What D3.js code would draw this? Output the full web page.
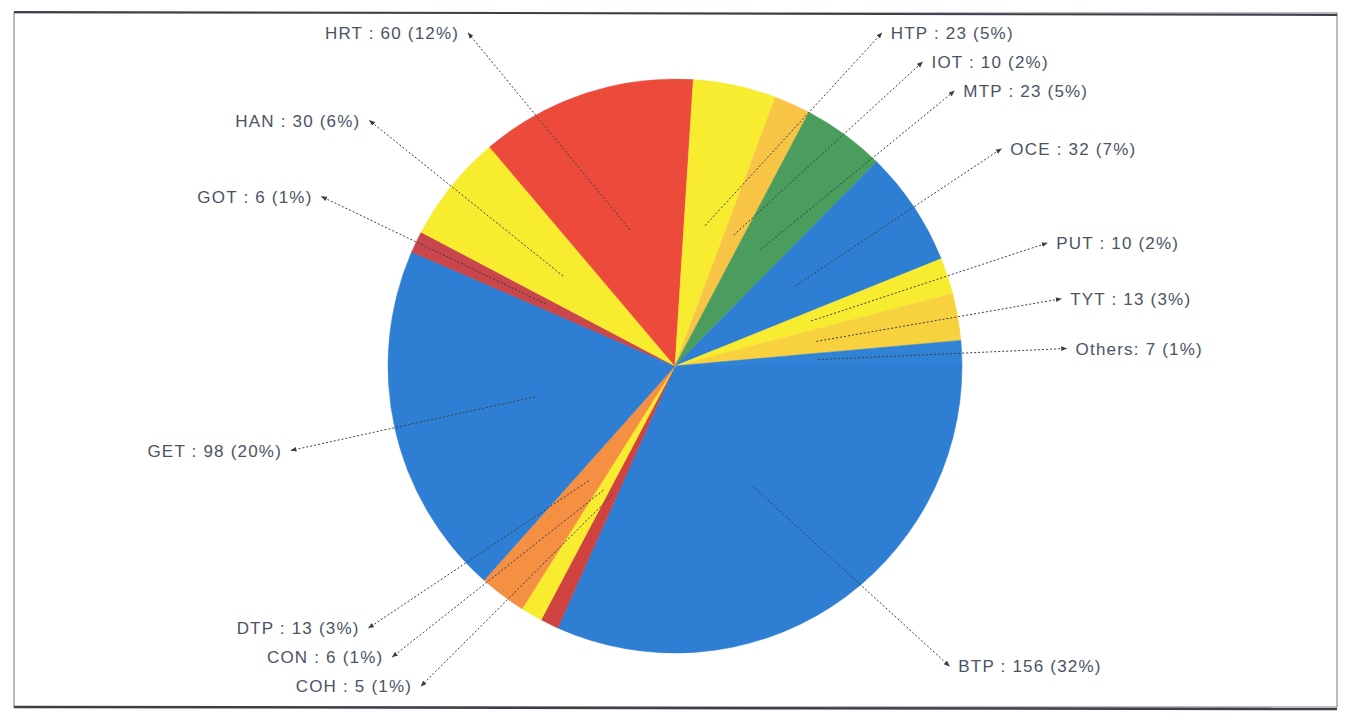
<!DOCTYPE html>
<html>
<head>
<meta charset="utf-8">
<script src="https://cdn.jsdelivr.net/npm/d3@7/dist/d3.min.js"></script>
<style>
  html, body { margin: 0; padding: 0; background: #ffffff; }
  svg { display: block; }
</style>
</head>
<body>
<svg id="chart" width="1346" height="727"></svg>
<script>
// ---- data ----
const categories = ["BTP", "COH", "CON", "DTP", "GET", "GOT", "HAN", "HRT", "HTP", "IOT", "MTP", "OCE", "PUT", "TYT", "Others"];
const values     = [156,   5,     6,     13,    98,    6,     30,    60,    23,    10,    23,    32,    10,    13,    7];
const sliceColors = ["#2e7fd4", "#d0423f", "#f8ec2e", "#f58f42", "#2e7fd4", "#c9464a", "#f8ec2e", "#ec4a3b",
                     "#f8ec30", "#f7c446", "#4a9d5c", "#2e7fd4", "#f8ec30", "#f8d23e", "#3083d6"];

// ---- layout ----
const cx = 675, cy = 366, R = 287;
const labelRx = 392, labelRyTop = 392, labelRyBottom = 420;
const labelGap = 29, yMin = 33, yMaxLeft = 686, yMaxRight = 666;

const svg = d3.select("#chart");

// frame
svg.append("rect").attr("x", 14).attr("y", 13).attr("width", 1323).attr("height", 694)
  .attr("fill", "#ffffff").attr("stroke", "#8a8f96").attr("stroke-width", 1.2);
svg.append("line").attr("x1", 14).attr("y1", 12).attr("x2", 1337).attr("y2", 15)
  .attr("stroke", "#3d4147").attr("stroke-width", 2);
svg.append("line").attr("x1", 14).attr("y1", 707).attr("x2", 1337).attr("y2", 709)
  .attr("stroke", "#3d4147").attr("stroke-width", 2.5);

const defs = svg.append("defs");
defs.append("marker").attr("id", "arrow").attr("viewBox", "0 0 10 10")
  .attr("refX", 9).attr("refY", 5).attr("markerWidth", 6).attr("markerHeight", 6)
  .attr("orient", "auto").attr("markerUnits", "userSpaceOnUse")
  .append("path").attr("d", "M0,1 L10,5 L0,9 Z").attr("fill", "#3a3f47");

const data = categories.map((c, i) => ({ name: c, value: values[i], color: sliceColors[i] }));
const total = d3.sum(values);

const pie = d3.pie().sort(null).value(d => d.value)
  .startAngle(Math.PI / 2).endAngle(Math.PI / 2 + 2 * Math.PI);
const arcs = pie(data);
const arc = d3.arc().innerRadius(0).outerRadius(R);

const g = svg.append("g").attr("transform", `translate(${cx},${cy})`);
g.selectAll("path.slice").data(arcs).enter().append("path")
  .attr("class", "slice")
  .attr("d", arc)
  .attr("fill", d => d.data.color)
  .attr("stroke", d => d.data.color).attr("stroke-width", 0.5);

// label positions
const labels = arcs.map(a => {
  const mid = (a.startAngle + a.endAngle) / 2;
  const side = Math.sin(mid) >= 0 ? 1 : -1;
  return {
    a, mid, side,
    y: -labelRyTop * Math.cos(mid),
    inner: [0.5 * R * Math.sin(mid), -0.5 * R * Math.cos(mid)]
  };
});
[1, -1].forEach(s => {
  const grp = labels.filter(l => l.side === s).sort((p, q) => p.y - q.y);
  const lo = yMin - cy, hi = (s > 0 ? yMaxRight : yMaxLeft) - cy;
  grp.forEach(l => { l.y = Math.max(lo, Math.min(hi, l.y)); });
  for (let i = 1; i < grp.length; i++) grp[i].y = Math.max(grp[i].y, grp[i - 1].y + labelGap);
  grp[grp.length - 1].y = Math.min(grp[grp.length - 1].y, hi);
  for (let i = grp.length - 2; i >= 0; i--) grp[i].y = Math.min(grp[i].y, grp[i + 1].y - labelGap);
});
labels.forEach(l => {
  const ry = l.y < 0 ? labelRyTop : labelRyBottom;
  const t = Math.min(Math.abs(l.y) / ry, 0.999);
  l.x = l.side * labelRx * Math.sqrt(1 - t * t);
});

g.selectAll("line.leader").data(labels).enter().append("line")
  .attr("class", "leader")
  .attr("x1", d => d.inner[0]).attr("y1", d => d.inner[1])
  .attr("x2", d => d.x).attr("y2", d => d.y)
  .attr("stroke", "#3a3f47").attr("stroke-width", 1)
  .attr("stroke-dasharray", "2,2")
  .attr("marker-end", "url(#arrow)");

g.selectAll("text.lbl").data(labels).enter().append("text")
  .attr("class", "lbl")
  .attr("x", d => d.x + d.side * 9)
  .attr("y", d => d.y)
  .attr("dy", "0.36em")
  .attr("text-anchor", d => d.side > 0 ? "start" : "end")
  .attr("font-family", "'Liberation Sans', Arial, sans-serif")
  .attr("font-size", 17)
  .attr("letter-spacing", 1.2)
  .attr("fill", "#4a5464")
  .text(d => {
    const n = d.a.data.name, v = d.a.data.value;
    const pct = Math.round(v / total * 100);
    return (n === "Others" ? n + ": " : n + " : ") + v + " (" + pct + "%)";
  });
</script>
</body>
</html>
